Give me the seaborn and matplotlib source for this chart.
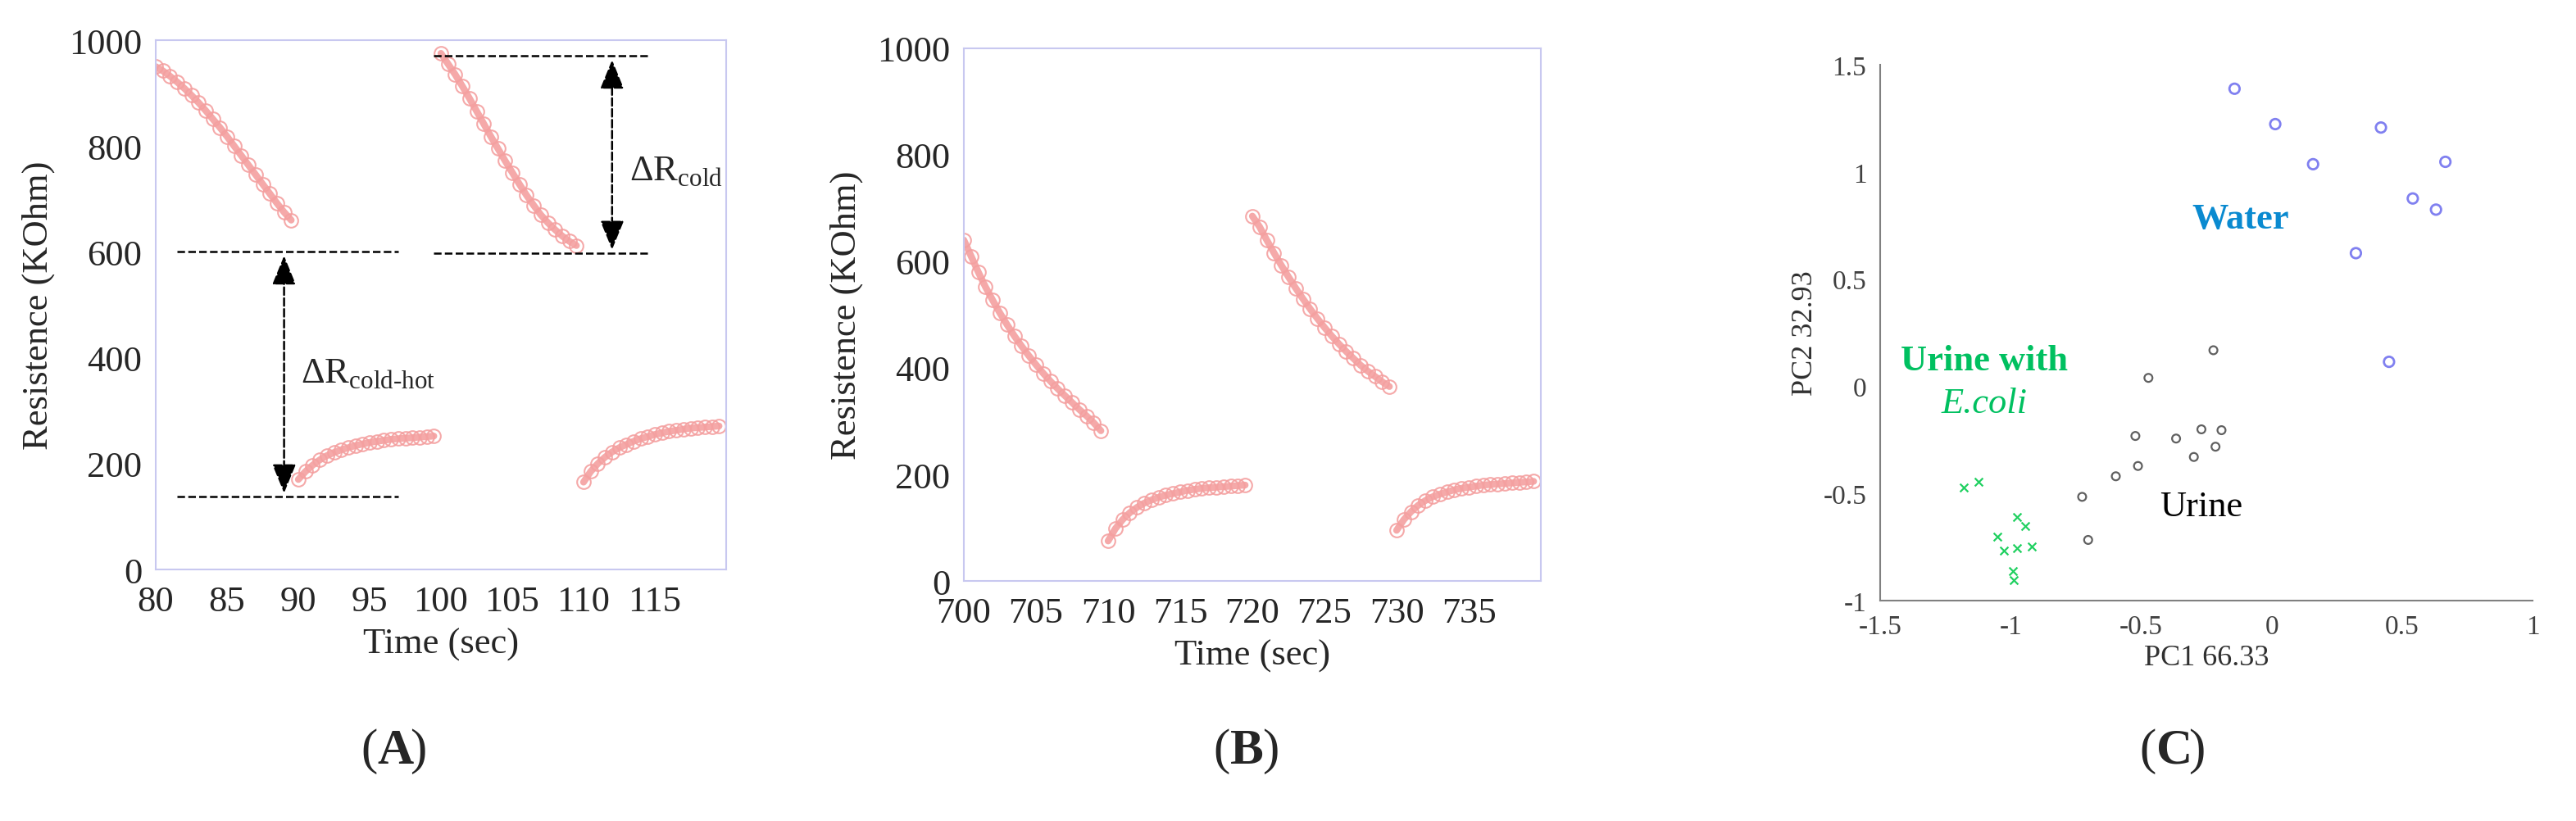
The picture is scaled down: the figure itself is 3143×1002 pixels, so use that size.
import numpy as np
import pandas as pd
import matplotlib
matplotlib.use("Agg")
import matplotlib.pyplot as plt
import seaborn as sns

sns.set_style("white")
plt.rcParams['font.family'] = ['Liberation Serif', 'DejaVu Serif']
plt.rcParams['mathtext.fontset'] = 'custom'
plt.rcParams['mathtext.rm'] = 'Liberation Serif'

# Panel A data (0.5 s steps per segment)
a_t1 = np.arange(80, 90, 0.5)
a_r1 = [950, 942, 932, 921, 909, 896, 882, 867, 851, 835, 818, 800, 782, 764, 746, 728, 710, 692, 675, 660]
a_t2 = np.arange(90, 100, 0.5)
a_r2 = [170, 185, 197, 207, 215, 221, 226, 230, 234, 237, 240, 242, 244, 246, 247, 248, 249, 250, 251, 252]
a_t3 = np.arange(100, 110, 0.5)
a_r3 = [975, 955, 935, 913, 890, 866, 842, 818, 795, 772, 750, 728, 707, 688, 670, 655, 642, 630, 620, 612]
a_t4 = np.arange(110, 120, 0.5)
a_r4 = [165, 185, 200, 212, 222, 230, 236, 242, 247, 251, 255, 258, 261, 263, 265, 267, 268, 269, 270, 271]

# Panel B data
b_t1 = np.arange(700, 710, 0.5)
b_r1 = [640, 610, 580, 552, 527, 503, 481, 460, 441, 423, 406, 390, 375, 361, 348, 335, 322, 310, 297, 282]
b_t2 = np.arange(710, 720, 0.5)
b_r2 = [75, 98, 115, 128, 138, 146, 152, 157, 161, 164, 167, 170, 172, 174, 175, 176, 177, 178, 179, 180]
b_t3 = np.arange(720, 730, 0.5)
b_r3 = [685, 665, 640, 616, 593, 571, 550, 530, 511, 493, 476, 460, 445, 431, 418, 405, 394, 384, 374, 365]
b_t4 = np.arange(730, 740, 0.5)
b_r4 = [95, 115, 130, 142, 151, 158, 163, 167, 171, 174, 176, 178, 180, 181, 182, 183, 184, 185, 186, 187]

# Panel C PCA scores
water_x = [-0.142, 0.014, 0.159, 0.419, 0.666, 0.541, 0.630, 0.323, 0.450]
water_y = [1.388, 1.223, 1.036, 1.207, 1.047, 0.876, 0.824, 0.621, 0.114]
urine_x = [-0.223, -0.472, -0.522, -0.366, -0.269, -0.192, -0.215, -0.298, -0.512, -0.597, -0.726, -0.703]
urine_y = [0.168, 0.039, -0.232, -0.244, -0.201, -0.205, -0.282, -0.330, -0.372, -0.420, -0.516, -0.717]
ecoli_x = [-1.180, -1.124, -0.975, -0.944, -1.051, -1.025, -0.975, -0.919, -0.991, -0.987]
ecoli_y = [-0.474, -0.444, -0.609, -0.651, -0.703, -0.765, -0.755, -0.747, -0.863, -0.906]

pink = '#f4a0a0'
fig = plt.figure(figsize=(31.43, 10.03), dpi=100)
axA = fig.add_axes([190/3143, 1 - 696/1003, 696/3143, 646/1003])
axB = fig.add_axes([1176/3143, 1 - 710/1003, 704/3143, 650/1003])
axC = fig.add_axes([2294/3143, 1 - 734/1003, 796/3143, 654/1003])

def draw_segments(ax, segs):
    for t, r in segs:
        sns.lineplot(x=t, y=r, ax=ax, color=pink, lw=6, alpha=0.9, marker='o', markersize=12,
                     markerfacecolor='none', markeredgecolor=pink, markeredgewidth=1.5)

draw_segments(axA, [(a_t1, a_r1), (a_t2, a_r2), (a_t3, a_r3), (a_t4, a_r4)])
draw_segments(axB, [(b_t1, b_r1), (b_t2, b_r2), (b_t3, b_r3), (b_t4, b_r4)])

for ax, x0, x1, ticks in [(axA, 80, 120, range(80, 120, 5)), (axB, 700, 740, range(700, 740, 5))]:
    ax.set_xlim(x0, x1)
    ax.set_ylim(0, 1000)
    ax.set_xticks(list(ticks))
    ax.set_yticks(range(0, 1001, 200))
    ax.tick_params(labelsize=32, length=0)
    ax.tick_params(axis='x', pad=14)
    ax.tick_params(axis='y', pad=12)
    ax.set_xlabel('Time (sec)', fontsize=32, labelpad=8)
    ax.set_ylabel('Resistence (KOhm)', fontsize=32, labelpad=12)
    for s in ax.spines.values():
        s.set_color('#c8c8f0')
        s.set_linewidth(1.5)

# annotations on A
dash = dict(color='black', ls='--', lw=1.8)
axA.plot([81.5, 97], [600, 600], **dash)
axA.plot([81.5, 97], [137, 137], **dash)
axA.plot([99.5, 114.5], [970, 970], **dash)
axA.plot([99.5, 114.5], [597, 597], **dash)
for x, y0, y1 in [(89, 140, 597), (112, 600, 967)]:
    axA.annotate('', xy=(x, y1), xytext=(x, y0),
                 arrowprops=dict(arrowstyle='<|-|>,head_length=2.2,head_width=0.9',
                                 color='black', ls='--', lw=1.8))
axA.text(90.2, 370, r'$\Delta$R$_{\mathregular{cold\text{-}hot}}$', fontsize=32, va='center')
axA.text(113.2, 752, r'$\Delta$R$_{\mathregular{cold}}$', fontsize=32, va='center')

# Panel C
sns.scatterplot(x=water_x, y=water_y, ax=axC, marker='o', s=80, facecolor='none',
                edgecolor='#8080f0', linewidth=2)
sns.scatterplot(x=urine_x, y=urine_y, ax=axC, marker='o', s=50, facecolor='none',
                edgecolor='#606060', linewidth=1.6)
sns.scatterplot(x=ecoli_x, y=ecoli_y, ax=axC, marker='x', s=50, color='#20d060', linewidth=1.6)
axC.set_xlim(-1.5, 1)
axC.set_ylim(-1, 1.5)
axC.set_xticks([-1.5, -1, -0.5, 0, 0.5, 1])
axC.set_xticklabels(['-1.5', '-1', '-0.5', '0', '0.5', '1'])
axC.set_yticks([-1, -0.5, 0, 0.5, 1, 1.5])
axC.set_yticklabels(['-1', '-0.5', '0', '0.5', '1', '1.5'])
axC.tick_params(labelsize=24, length=5, direction='in', color='#808080', labelcolor='#404040', pad=12)
axC.spines['top'].set_visible(False)
axC.spines['right'].set_visible(False)
for s in ['left', 'bottom']:
    axC.spines[s].set_color('#808080')
    axC.spines[s].set_linewidth(1.5)
axC.set_xlabel('PC1 66.33', fontsize=26, color='#303030', labelpad=4)
axC.set_ylabel('PC2 32.93', fontsize=26, color='#303030', labelpad=4)
axC.text(-0.12, 0.78, 'Water', fontsize=32, color='#0a8ad0', ha='center', va='center', fontweight='bold')
axC.text(-1.1, 0.12, 'Urine with', fontsize=32, color='#00c060', ha='center', va='center', fontweight='bold')
axC.text(-1.1, -0.08, 'E.coli', fontsize=32, color='#00c060', ha='center', va='center', style='italic')
axC.text(-0.27, -0.56, 'Urine', fontsize=32, color='black', ha='center', va='center')

# panel letters
for xf, lab in [(0.1465, 'A'), (0.4775, 'B'), (0.837, 'C')]:
    fig.text(xf, 1 - 917/1003, '(', fontsize=44, ha='right', va='center')
    fig.text(xf, 1 - 917/1003, lab, fontsize=44, ha='left', va='center', fontweight='bold',
             transform=fig.transFigure)
    fig.text(xf + 0.0125, 1 - 917/1003, ')', fontsize=44, ha='left', va='center')

fig.savefig('out.png', dpi=100)
